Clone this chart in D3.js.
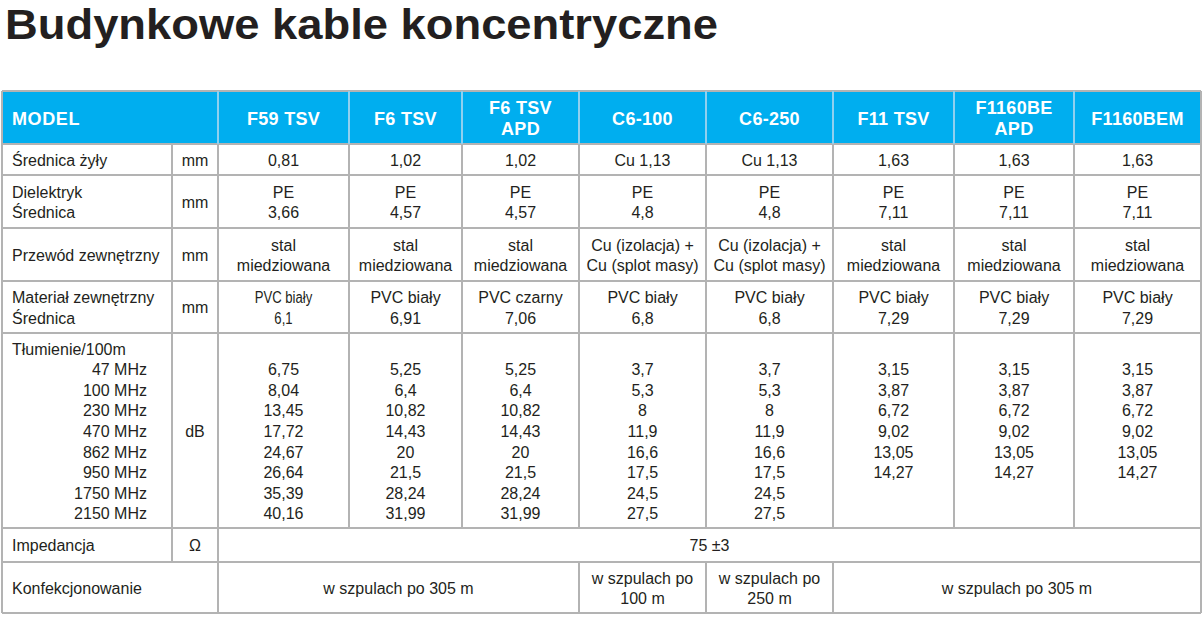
<!DOCTYPE html>
<html><head><meta charset="utf-8">
<script src="https://cdn.jsdelivr.net/npm/d3@7"></script>
<style>html,body{margin:0;padding:0;background:#fff;}svg{display:block;}</style>
</head><body>
<script>
// ---------- DATA ----------
const title = "Budynkowe kable koncentryczne";
const models = ["F59 TSV","F6 TSV","F6 TSV\nAPD","C6-100","C6-250","F11 TSV","F1160BE\nAPD","F1160BEM"];
const coreDiameter = ["0,81","1,02","1,02","Cu 1,13","Cu 1,13","1,63","1,63","1,63"];
const dielectricMaterial = ["PE","PE","PE","PE","PE","PE","PE","PE"];
const dielectricDiameter = ["3,66","4,57","4,57","4,8","4,8","7,11","7,11","7,11"];
const outerConductor = ["stal\nmiedziowana","stal\nmiedziowana","stal\nmiedziowana","Cu (izolacja) +\nCu (splot masy)","Cu (izolacja) +\nCu (splot masy)","stal\nmiedziowana","stal\nmiedziowana","stal\nmiedziowana"];
const jacketMaterial = ["PVC biały","PVC biały","PVC czarny","PVC biały","PVC biały","PVC biały","PVC biały","PVC biały"];
const jacketDiameter = ["6,1","6,91","7,06","6,8","6,8","7,29","7,29","7,29"];
const frequencies = ["47 MHz","100 MHz","230 MHz","470 MHz","862 MHz","950 MHz","1750 MHz","2150 MHz"];
const attF59TSV   = ["6,75","8,04","13,45","17,72","24,67","26,64","35,39","40,16"];
const attF6TSV    = ["5,25","6,4","10,82","14,43","20","21,5","28,24","31,99"];
const attF6TSVAPD = ["5,25","6,4","10,82","14,43","20","21,5","28,24","31,99"];
const attC6100    = ["3,7","5,3","8","11,9","16,6","17,5","24,5","27,5"];
const attC6250    = ["3,7","5,3","8","11,9","16,6","17,5","24,5","27,5"];
const attF11TSV   = ["3,15","3,87","6,72","9,02","13,05","14,27"];
const attF1160BEAPD = ["3,15","3,87","6,72","9,02","13,05","14,27"];
const attF1160BEM = ["3,15","3,87","6,72","9,02","13,05","14,27"];
const attenuation = [attF59TSV,attF6TSV,attF6TSVAPD,attC6100,attC6250,attF11TSV,attF1160BEAPD,attF1160BEM];
const rowLabels = ["Średnica żyły","Dielektryk\nŚrednica","Przewód zewnętrzny","Materiał zewnętrzny\nŚrednica","Tłumienie/100m","Impedancja","Konfekcjonowanie"];
const rowUnits = ["mm","mm","mm","mm","dB","Ω",""];
const impedance = "75 ±3";
const packagingText = ["w szpulach po 305 m","w szpulach po\n100 m","w szpulach po\n250 m","w szpulach po 305 m"];
const packagingSpan = [3,1,1,3];

// ---------- LAYOUT ----------
const W = 1203, H = 617;
const svg = d3.select("body").append("svg").attr("width", W).attr("height", H);
const FONT = "'Liberation Sans', Arial, sans-serif";
const TXT = "#231f20", GRID = "#b3b3b3", HEAD = "#00aeef";
const xLeft = 2, xUnit = 172, xRight = 1201;
const colEdges = [218,349,462,579,706,833,954,1074,1201];
const xModel = d3.scaleOrdinal().domain(d3.range(models.length + 1)).range(colEdges);
const colCenter = i => (xModel(i) + xModel(i + 1)) / 2;
const rowEdges = [91,144,175,228,281,333,528,562,613];
const yRow = d3.scaleOrdinal().domain(d3.range(rowEdges.length)).range(rowEdges);
const rowCenter = r => (yRow(r) + yRow(r + 1)) / 2;
const LH = 20.6;

function multiText(g, lines, x, cy, opts) {
  opts = opts || {};
  const lh = opts.lh || LH;
  const n = lines.length;
  lines.forEach((t, k) => {
    if (t === "") return;
    const el = g.append("text")
      .attr("x", x).attr("y", cy + (k - (n - 1) / 2) * lh)
      .attr("dy", "0.4em")
      .attr("text-anchor", opts.anchor || "middle")
      .attr("font-family", FONT)
      .attr("font-size", opts.size || 16)
      .attr("font-weight", opts.weight || "normal")
      .attr("letter-spacing", opts.ls || 0)
      .attr("fill", opts.fill || TXT)
      .text(t);
    if (opts.sx) el.attr("transform", `translate(${x},0) scale(${opts.sx},1) translate(${-x},0)`);
  });
}

// Title
svg.append("text").attr("x", 5).attr("y", 39)
  .attr("font-family", FONT).attr("font-weight", "bold").attr("font-size", 43)
  .attr("fill", TXT).attr("textLength", 713).attr("lengthAdjust", "spacingAndGlyphs")
  .text(title);

// Header background
svg.append("rect").attr("x", xLeft).attr("y", yRow(0)).attr("width", xRight - xLeft)
  .attr("height", yRow(1) - yRow(0)).attr("fill", HEAD);

const grid = svg.append("g").attr("stroke", GRID).attr("stroke-width", 1.2).attr("shape-rendering", "crispEdges");
// header verticals (light)
colEdges.slice(0, -1).forEach(x => {
  svg.append("line").attr("x1", x).attr("x2", x).attr("y1", yRow(0)).attr("y2", yRow(1))
    .attr("stroke", "#8fd0ef").attr("stroke-width", 1.2).attr("shape-rendering", "crispEdges");
});
// horizontals
rowEdges.forEach(y => grid.append("line").attr("x1", xLeft).attr("x2", xRight).attr("y1", y).attr("y2", y));
// outer verticals
[xLeft, xRight].forEach(x => grid.append("line").attr("x1", x).attr("x2", x).attr("y1", yRow(0)).attr("y2", yRow(8)));
// body verticals rows 1-5
colEdges.slice(0, -1).forEach(x => grid.append("line").attr("x1", x).attr("x2", x).attr("y1", yRow(1)).attr("y2", yRow(6)));
// unit column line rows 1-6
grid.append("line").attr("x1", xUnit).attr("x2", xUnit).attr("y1", yRow(1)).attr("y2", yRow(7));
// impedance row verticals
grid.append("line").attr("x1", xModel(0)).attr("x2", xModel(0)).attr("y1", yRow(6)).attr("y2", yRow(8));
// packaging row verticals
let acc = 0;
packagingSpan.slice(0, -1).forEach(s => {
  acc += s;
  grid.append("line").attr("x1", xModel(acc)).attr("x2", xModel(acc)).attr("y1", yRow(7)).attr("y2", yRow(8));
});

const g = svg.append("g");
// Header texts
g.append("text").attr("x", 12).attr("y", rowCenter(0)).attr("dy", "0.4em")
  .attr("font-family", FONT).attr("font-weight", "bold").attr("font-size", 18)
  .attr("letter-spacing", 0.6).attr("fill", "#fff").text("MODEL");
models.forEach((m, i) => multiText(g, m.split("\n"), colCenter(i), rowCenter(0),
  {size: 18, weight: "bold", fill: "#fff", lh: 21, ls: 0.3}));

// Row labels & units
rowLabels.forEach((lab, r) => {
  const lines = lab.split("\n");
  if (r === 4) {
    const all = [lines[0]].concat(frequencies.map(() => ""));
    multiText(g, all, 12, rowCenter(r + 1), {anchor: "start"});
    const fl = [""].concat(frequencies);
    multiText(g, fl, 147, rowCenter(r + 1), {anchor: "end"});
  } else {
    multiText(g, lines, 12, rowCenter(r + 1), {anchor: "start"});
  }
  if (rowUnits[r]) multiText(g, [rowUnits[r]], (xUnit + xModel(0)) / 2, rowCenter(r + 1));
});

// Body cells
models.forEach((m, i) => {
  const cx = colCenter(i);
  multiText(g, [coreDiameter[i]], cx, rowCenter(1));
  multiText(g, [dielectricMaterial[i], dielectricDiameter[i]], cx, rowCenter(2));
  multiText(g, outerConductor[i].split("\n"), cx, rowCenter(3));
  multiText(g, [jacketMaterial[i], jacketDiameter[i]], cx, rowCenter(4), i === 0 ? {sx: 0.82} : {});
  const vals = [""].concat(attenuation[i]);
  while (vals.length < frequencies.length + 1) vals.push("");
  multiText(g, vals, cx, rowCenter(5));
});

// Impedance
multiText(g, [impedance], (xModel(0) + xRight) / 2, rowCenter(6));
// Packaging
acc = 0;
packagingText.forEach((t, k) => {
  const x0 = xModel(acc), x1 = xModel(acc + packagingSpan[k]);
  acc += packagingSpan[k];
  multiText(g, t.split("\n"), (x0 + x1) / 2, rowCenter(7));
});
</script>
</body></html>
